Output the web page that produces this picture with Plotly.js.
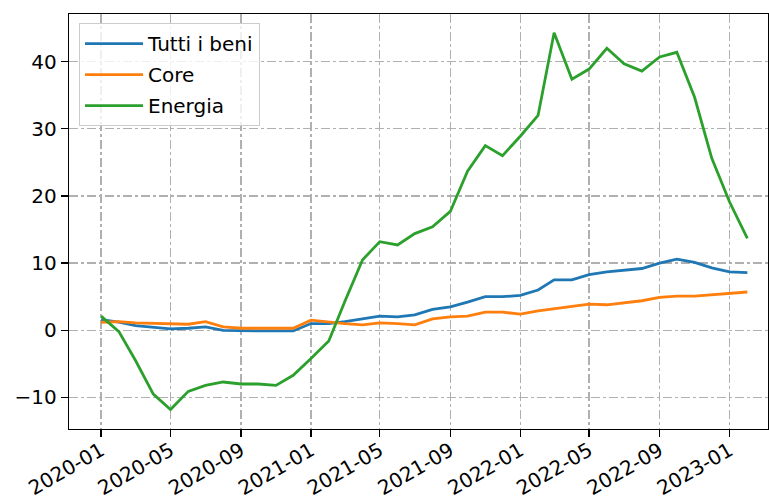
<!DOCTYPE html>
<html>
<head>
<meta charset="utf-8">
<script src="https://cdn.plot.ly/plotly-3.0.1.min.js"></script>
<style>
html,body{margin:0;padding:0;background:#fff;}
#chart{width:769px;height:504px;}
</style>
</head>
<body>
<div id="chart"></div>
<script>
const months = [
  "2020-01-01","2020-02-01","2020-03-01","2020-04-01","2020-05-01","2020-06-01",
  "2020-07-01","2020-08-01","2020-09-01","2020-10-01","2020-11-01","2020-12-01",
  "2021-01-01","2021-02-01","2021-03-01","2021-04-01","2021-05-01","2021-06-01",
  "2021-07-01","2021-08-01","2021-09-01","2021-10-01","2021-11-01","2021-12-01",
  "2022-01-01","2022-02-01","2022-03-01","2022-04-01","2022-05-01","2022-06-01",
  "2022-07-01","2022-08-01","2022-09-01","2022-10-01","2022-11-01","2022-12-01",
  "2023-01-01","2023-02-01"
];
const tuttiBeni = [1.6,1.2,0.7,0.4,0.2,0.3,0.5,0.0,-0.1,-0.1,-0.1,-0.1,
  1.0,1.0,1.3,1.7,2.1,2.0,2.3,3.1,3.5,4.2,5.0,5.0,
  5.2,6.0,7.5,7.5,8.3,8.7,9.0,9.2,10.0,10.6,10.1,9.3,
  8.7,8.6];
const core = [1.2,1.3,1.1,1.0,1.0,0.9,1.3,0.5,0.3,0.3,0.3,0.3,
  1.5,1.2,1.0,0.8,1.1,1.0,0.8,1.7,2.0,2.1,2.7,2.7,
  2.4,2.9,3.2,3.6,3.9,3.8,4.1,4.4,4.9,5.1,5.1,5.3,
  5.4,5.7];
const energia = [2.1,-0.2,-4.5,-9.5,-11.8,-9.1,-8.2,-7.7,-8.0,-8.0,-8.2,-6.7,
  -4.2,-1.6,4.3,10.5,13.2,12.7,14.4,15.4,17.7,23.7,27.5,26.0,
  28.9,32.0,44.3,37.4,38.9,42.0,39.7,38.6,40.7,41.4,34.7,25.6,
  19.1,13.7];
const seriesNames = ["Tutti i beni","Core","Energia"];
const colors = ["#1f77b4","#ff7f0e","#2ca02c"];

const data = [tuttiBeni, core, energia].map((ys, i) => ({
  type: "scatter", mode: "lines", x: months, y: ys, name: seriesNames[i],
  legendgroup: "g" + i,
  line: {color: colors[i], width: 2.8}
}));

const font = {family: "DejaVu Sans, sans-serif", size: 20, color: "#000"};
const layout = {
  width: 769, height: 504,
  margin: {l: 69, r: 1, t: 14, b: 75},
  paper_bgcolor: "#fff", plot_bgcolor: "#fff",
  font: font,
  showlegend: true,
  legend: {
    x: 0.0143, y: 0.978, xanchor: "left", yanchor: "top",
    bgcolor: "rgba(255,255,255,0.8)", bordercolor: "#cccccc", borderwidth: 1,
    font: font, traceorder: "grouped", tracegroupgap: 2, itemwidth: 58
  },
  xaxis: {
    type: "date",
    range: ["2019-11-06", "2023-03-09"],
    tick0: "2020-01-01", dtick: "M4", tickformat: "%Y-%m",
    tickangle: -30, ticklabelstandoff: -6,
    ticks: "outside", ticklen: 7, tickwidth: 1.3, tickcolor: "#000",
    showline: true, mirror: true, linecolor: "#000", linewidth: 1.3,
    showgrid: true, gridcolor: "#b0b0b0", gridwidth: 1.3, griddash: "dashdot",
    zeroline: false, tickfont: font
  },
  yaxis: {
    range: [-14.7, 47.1], dtick: 10, tick0: 0,
    ticks: "outside", ticklen: 7, tickwidth: 1.3, tickcolor: "#000",
    showline: true, mirror: true, linecolor: "#000", linewidth: 1.3,
    showgrid: true, gridcolor: "#b0b0b0", gridwidth: 1.3, griddash: "dashdot",
    zeroline: false, tickfont: font
  }
};
Plotly.newPlot("chart", data, layout, {displayModeBar: false, staticPlot: true});
</script>
</body>
</html>
